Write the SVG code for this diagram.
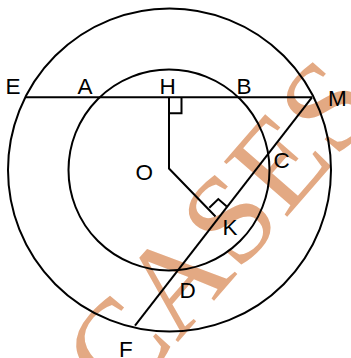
<svg xmlns="http://www.w3.org/2000/svg" width="351" height="358" viewBox="0 0 351 358">
<style>
.wm{font-family:"Liberation Serif","Times New Roman",serif;font-size:128px;fill:#E3A983}
.ln{fill:none;stroke:#000;stroke-width:2}
.lb{font-family:"Liberation Sans",Arial,sans-serif;font-size:22.5px;fill:#000}
</style>
<rect width="351" height="358" fill="#fff"/>
<text class="wm" x="0" y="0" text-anchor="middle" transform="translate(252,257) rotate(-49)">CASES</text>
<g id="circles">
<circle id="outer" class="ln" cx="169.5" cy="170" r="161.5"/>
<circle id="inner" class="ln" cx="169" cy="170" r="100.5"/>
</g>
<g id="connectors">
<line class="ln" x1="25.5" y1="97.3" x2="312" y2="97.3"/>
<line class="ln" x1="312" y1="97.3" x2="135" y2="325.7"/>
<polyline class="ln" points="169,97.3 169,168.5 215.5,216.5"/>
<polyline class="ln" points="169,113.3 181.5,113.3 181.5,97.3"/>
<polyline class="ln" points="209.3,207.8 218.3,199 226.8,206.5"/>
</g>
<g id="labels">
<text class="lb" x="5.5" y="94">E</text>
<text class="lb" x="77.5" y="94">A</text>
<text class="lb" x="159.5" y="94">H</text>
<text class="lb" x="236.5" y="94">B</text>
<text class="lb" x="328" y="106">M</text>
<text class="lb" x="273.5" y="168">C</text>
<text class="lb" x="135.5" y="179.5">O</text>
<text class="lb" x="222.5" y="235">K</text>
<text class="lb" x="179.5" y="298">D</text>
<text class="lb" x="119" y="357">F</text>
</g>
</svg>
